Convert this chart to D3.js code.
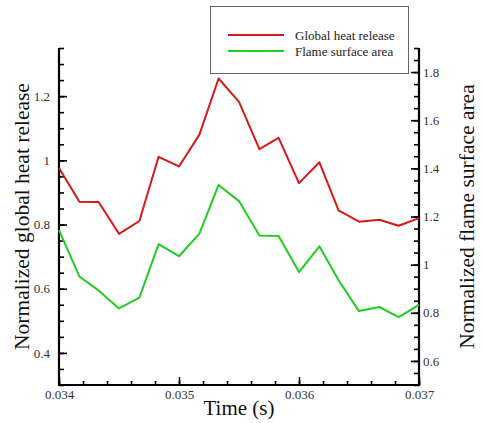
<!DOCTYPE html>
<html><head><meta charset="utf-8">
<script src="https://cdn.jsdelivr.net/npm/d3@7"></script>
<style>body{margin:0;background:#fff}svg{display:block}svg text{font-family:"Liberation Serif","Times New Roman",Times,serif}</style>
</head><body>
<svg id="c" width="482" height="423"></svg>
<script>
const time = [0.034, 0.03417, 0.03433, 0.0345, 0.03467, 0.03483, 0.035, 0.03517, 0.03533, 0.0355,
  0.03567, 0.03583, 0.036, 0.03617, 0.03633, 0.0365, 0.03667, 0.03683, 0.037];
const heatRelease = [0.976, 0.871, 0.870, 0.771, 0.811, 1.011, 0.981, 1.080, 1.255, 1.182,
  1.035, 1.070, 0.929, 0.994, 0.844, 0.809, 0.815, 0.796, 0.820];
const flameArea = [1.143, 0.951, 0.893, 0.818, 0.863, 1.085, 1.035, 1.129, 1.331, 1.264,
  1.121, 1.119, 0.969, 1.076, 0.935, 0.807, 0.824, 0.782, 0.833];
const xTicks = [0.034, 0.035, 0.036, 0.037];
const leftTicks = [0.4, 0.6, 0.8, 1.0, 1.2];
const rightTicks = [0.6, 0.8, 1.0, 1.2, 1.4, 1.6, 1.8];
const seriesNames = ["Global heat release", "Flame surface area"];
const seriesColors = ["#d81818", "#22cc22"];

const svg = d3.select("#c");
const L = 59, R = 419, T = 48, B = 385;

const x = d3.scaleLinear().domain([0.034, 0.037]).range([L, R]);
const yL = d3.scaleLinear().domain([0.3, 1.35]).range([B, T]);
const yR = d3.scaleLinear().domain([0.5, 1.9]).range([B, T]);

const fmt = d => (Math.abs(d - 1) < 1e-9 ? "1" : String(+d.toFixed(3)));

const xMinor = d3.range(0, 16).map(i => 0.034 + i * 0.0002);
const lMinor = d3.range(0, 22).map(i => 0.3 + i * 0.05);
const rMinor = d3.range(0, 29).map(i => 0.5 + i * 0.05);

function styleAxis(g) {
  g.select(".domain").remove();
  g.selectAll("line").attr("stroke", "#000").attr("stroke-width", 1.6);
  g.selectAll("text").attr("font-family", null).attr("font-size", 13).attr("fill", "#333");
}

const gxMinor = svg.append("g").attr("transform", `translate(0,${B})`)
  .call(d3.axisBottom(x).tickValues(xMinor).tickSize(-4).tickFormat(""));
styleAxis(gxMinor);
const gx = svg.append("g").attr("transform", `translate(0,${B})`)
  .call(d3.axisBottom(x).tickValues(xTicks).tickSize(-8).tickPadding(5).tickFormat(d => d3.format(".3f")(d)));
styleAxis(gx);

const glMinor = svg.append("g").attr("transform", `translate(${L},0)`)
  .call(d3.axisLeft(yL).tickValues(lMinor).tickSize(-5).tickFormat(""));
styleAxis(glMinor);
const gl = svg.append("g").attr("transform", `translate(${L},0)`)
  .call(d3.axisLeft(yL).tickValues(leftTicks).tickSize(-8).tickPadding(9).tickFormat(fmt));
styleAxis(gl);

const grMinor = svg.append("g").attr("transform", `translate(${R},0)`)
  .call(d3.axisRight(yR).tickValues(rMinor).tickSize(-5).tickFormat(""));
styleAxis(grMinor);
const gr = svg.append("g").attr("transform", `translate(${R},0)`)
  .call(d3.axisRight(yR).tickValues(rightTicks).tickSize(-8).tickPadding(4).tickFormat(fmt));
styleAxis(gr);

svg.append("line").attr("x1", L).attr("x2", L).attr("y1", T).attr("y2", B + 1).attr("stroke", "#000").attr("stroke-width", 2.2);
svg.append("line").attr("x1", R).attr("x2", R).attr("y1", T).attr("y2", B + 1).attr("stroke", "#000").attr("stroke-width", 2.2);
svg.append("line").attr("x1", L - 1).attr("x2", R + 1).attr("y1", B).attr("y2", B).attr("stroke", "#000").attr("stroke-width", 2.2);

const lineL = d3.line().x((d, i) => x(time[i])).y(d => yL(d));
const lineR = d3.line().x((d, i) => x(time[i])).y(d => yR(d));
svg.append("path").datum(heatRelease).attr("d", lineL).attr("fill", "none")
  .attr("stroke", seriesColors[0]).attr("stroke-width", 2).attr("stroke-linejoin", "round");
svg.append("path").datum(flameArea).attr("d", lineR).attr("fill", "none")
  .attr("stroke", seriesColors[1]).attr("stroke-width", 2).attr("stroke-linejoin", "round");

svg.append("text").attr("x", (L + R) / 2).attr("y", 415).attr("text-anchor", "middle")
  .attr("font-size", 21).attr("fill", "#111").text("Time (s)");
svg.append("text").attr("transform", `translate(29,216.5) rotate(-90)`).attr("text-anchor", "middle")
  .attr("font-size", 21.5).attr("fill", "#111").text("Normalized global heat release");
svg.append("text").attr("transform", `translate(474,216.5) rotate(-90)`).attr("text-anchor", "middle")
  .attr("font-size", 21.5).attr("fill", "#111").text("Normalized flame surface area");

svg.append("rect").attr("x", 210.5).attr("y", 6.5).attr("width", 198).attr("height", 67)
  .attr("fill", "#fff").attr("stroke", "#666").attr("stroke-width", 1);
seriesNames.forEach((n, i) => {
  const yy = 35 + i * 16;
  svg.append("line").attr("x1", 228).attr("x2", 284).attr("y1", yy).attr("y2", yy)
    .attr("stroke", seriesColors[i]).attr("stroke-width", 2);
  svg.append("text").attr("x", 295).attr("y", yy + 4.5)
    .attr("font-size", 13).attr("fill", "#222").text(n);
});
</script>
</body></html>
